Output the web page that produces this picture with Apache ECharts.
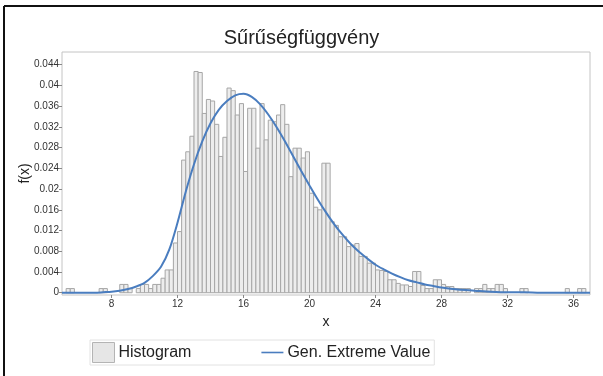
<!DOCTYPE html>
<html>
<head>
<meta charset="utf-8">
<title>Sűrűségfüggvény</title>
<script src="https://cdn.jsdelivr.net/npm/echarts@6/dist/echarts.min.js"></script>
<style>
	html, body { margin: 0; padding: 0; background: #fff; }
	#main { width: 603px; height: 376px; }
</style>
</head>
<body>
<div id="main"></div>
<script>
	// histogram bins: first left edge and width, then the bar heights (density)
	var binStart = 5;
	var binWidth = 0.25;
	var histValues = [
		0, 0.0008, 0.0008, 0, 0, 0, 0, 0,                     // 5 - 7
		0, 0.0008, 0.0008, 0, 0, 0, 0.0016, 0.0016,           // 7 - 9
		0.0008, 0, 0.0008, 0.0016, 0.0016, 0.0008, 0.0016, 0.0016, // 9 - 11
		0.0028, 0.0044, 0.0044, 0.0096, 0.0118, 0.0256, 0.0272, 0.0302, // 11 - 13
		0.0427, 0.0425, 0.0346, 0.0373, 0.0370, 0.0325, 0.0263, 0.0300, // 13 - 15
		0.0395, 0.0390, 0.0343, 0.0365, 0.0234, 0.0356, 0.0356, 0.0279, // 15 - 17
		0.0365, 0.0295, 0.0333, 0.0330, 0.0343, 0.0363, 0.0325, 0.0224, // 17 - 19
		0.0279, 0.0279, 0.0260, 0.0272, 0.0192, 0.0165, 0.0160, 0.0250, // 19 - 21
		0.0250, 0.0137, 0.0130, 0.0108, 0.0108, 0.0089, 0.0092, 0.0095, // 21 - 23
		0.0070, 0.0070, 0.0057, 0.0057, 0.0044, 0.0043, 0.0041, 0.0025, // 23 - 25
		0.0025, 0.0018, 0.0015, 0.0015, 0.0012, 0.0041, 0.0041, 0.0014, // 25 - 27
		0.0008, 0.0008, 0.0025, 0.0025, 0.0016, 0.0012, 0.0012, 0.0008, // 27 - 29
		0.0008, 0.0008, 0.0008, 0, 0.0008, 0.0008, 0.0016, 0.0008,      // 29 - 31
		0.0008, 0.0016, 0.0016, 0.0008, 0, 0, 0, 0.0008,                // 31 - 33
		0.0008, 0, 0, 0, 0, 0, 0, 0,                                    // 33 - 35
		0, 0, 0.0008, 0, 0, 0.0008, 0.0008, 0                           // 35 - 37
	];

	// fitted Gen. Extreme Value density
	var curveX = [5, 6, 7, 7.5, 8, 8.5, 9, 9.5, 10, 10.5, 11, 11.5, 12, 12.5, 13, 13.5, 14, 14.5, 15, 15.5,
		16, 16.5, 17, 17.5, 18, 18.5, 19, 19.5, 20, 20.5, 21, 21.5, 22, 22.5, 23, 23.5, 24, 24.5, 25, 25.5,
		26, 26.5, 27, 27.5, 28, 29, 30, 31, 32, 33, 34, 36, 37];
	var curveY = [0, 0, 0, 0.0001, 0.0002, 0.0004, 0.0007, 0.0012, 0.0019, 0.0032, 0.005, 0.0083, 0.0135, 0.0195,
		0.0248, 0.0292, 0.0327, 0.0353, 0.037, 0.0381, 0.0384, 0.0378, 0.0364, 0.0344, 0.032, 0.0293, 0.0264,
		0.0235, 0.0207, 0.018, 0.0155, 0.0132, 0.0112, 0.0094, 0.0079, 0.0066, 0.0054, 0.0045, 0.0037, 0.003,
		0.0024, 0.002, 0.0016, 0.0013, 0.001, 0.0006, 0.0004, 0.0002, 0.0001, 0.0001, 0, 0, 0];

	var xTicks = [8, 12, 16, 20, 24, 28, 32, 36];
	var yTicks = [0, 0.004, 0.008, 0.012, 0.016, 0.02, 0.024, 0.028, 0.032, 0.036, 0.04, 0.044];

	var histData = histValues.map(function (v, i) {
		return [binStart + i * binWidth, binStart + (i + 1) * binWidth, v];
	});
	var curveData = curveX.map(function (x, i) {
		return [x, curveY[i]];
	});

	var myChart = echarts.init(document.getElementById('main'));
	var option = {
		backgroundColor: '#fff',
		animation: false,
		title: {
			text: 'Sűrűségfüggvény',
			left: 'center',
			top: 23,
			textStyle: { fontFamily: 'Liberation Sans', fontSize: 20, fontWeight: 'normal', color: '#222' }
		},
		legend: {
			left: 90,
			top: 340,
			padding: [2, 4, 2, 2],
			borderColor: '#e2e2e2',
			borderWidth: 1,
			itemWidth: 22,
			itemHeight: 20,
			itemGap: 70,
			textStyle: { fontFamily: 'Liberation Sans', fontSize: 16, color: '#222', padding: [0, 0, 0, -1] },
			data: [
				{ name: 'Histogram', icon: 'rect', itemStyle: { color: '#e6e6e6', borderColor: '#b4b4b4', borderWidth: 1 } },
				// plain line swatch, the move-tos keep the 22x20 box so the bar stays thin
				{ name: 'Gen. Extreme Value', icon: 'path://M0,0M22,20M0,9.2H22V10.8H0Z' }
			]
		},
		grid: {
			left: 62,
			right: 13,
			top: 52,
			bottom: 81,
			show: true,
			borderColor: '#c4c4c4',
			borderWidth: 1
		},
		xAxis: {
			type: 'value',
			min: 5,
			max: 37,
			name: 'x',
			nameLocation: 'middle',
			nameGap: 20,
			nameTextStyle: { fontFamily: 'Liberation Sans', fontSize: 14, color: '#222' },
			axisLine: { show: false, onZero: false },
			axisTick: { show: true, length: 3, lineStyle: { color: '#888' }, customValues: xTicks },
			axisLabel: { customValues: xTicks, fontFamily: 'Liberation Sans', fontSize: 10, color: '#333', margin: 4 },
			splitLine: { show: false }
		},
		yAxis: {
			type: 'value',
			min: -0.00044,
			max: 0.04646,
			name: 'f(x)',
			nameLocation: 'middle',
			nameGap: 30,
			nameMoveOverlap: false,
			nameTextStyle: { fontFamily: 'Liberation Sans', fontSize: 14, color: '#222' },
			axisLine: { show: false, onZero: false },
			axisTick: { show: true, length: 3, lineStyle: { color: '#888' }, customValues: yTicks },
			axisLabel: {
				customValues: yTicks,
				fontFamily: 'Liberation Sans',
				fontSize: 10,
				color: '#333',
				margin: 3,
				formatter: function (v) { return String(v); }
			},
			splitLine: { show: false }
		},
		series: [
			{
				name: 'Histogram',
				type: 'custom',
				clip: true,
				encode: { x: [0, 1], y: 2 },
				data: histData,
				renderItem: function (params, api) {
					if (!api.value(2)) {
						return null;
					}
					var p0 = api.coord([api.value(0), api.value(2)]);
					var p1 = api.coord([api.value(1), 0]);
					return {
						type: 'rect',
						shape: { x: p0[0], y: p0[1], width: p1[0] - p0[0], height: p1[1] - p0[1] },
						style: { fill: '#ededed', stroke: '#a6a6a6', lineWidth: 1 }
					};
				}
			},
			{
				name: 'Gen. Extreme Value',
				type: 'line',
				data: curveData,
				smooth: 0.3,
				symbol: 'none',
				z: 5,
				lineStyle: { color: '#4a7dbf', width: 2 },
				itemStyle: { color: '#4a7dbf' }
			}
		],
		// black frame of the original screenshot (left and top edge)
		graphic: [
			{ type: 'line', shape: { x1: 4, y1: 6, x2: 603, y2: 6 }, style: { stroke: '#111', lineWidth: 2 } },
			{ type: 'line', shape: { x1: 4, y1: 6, x2: 4, y2: 376 }, style: { stroke: '#111', lineWidth: 2 } }
		]
	};
	myChart.setOption(option);
</script>
</body>
</html>
